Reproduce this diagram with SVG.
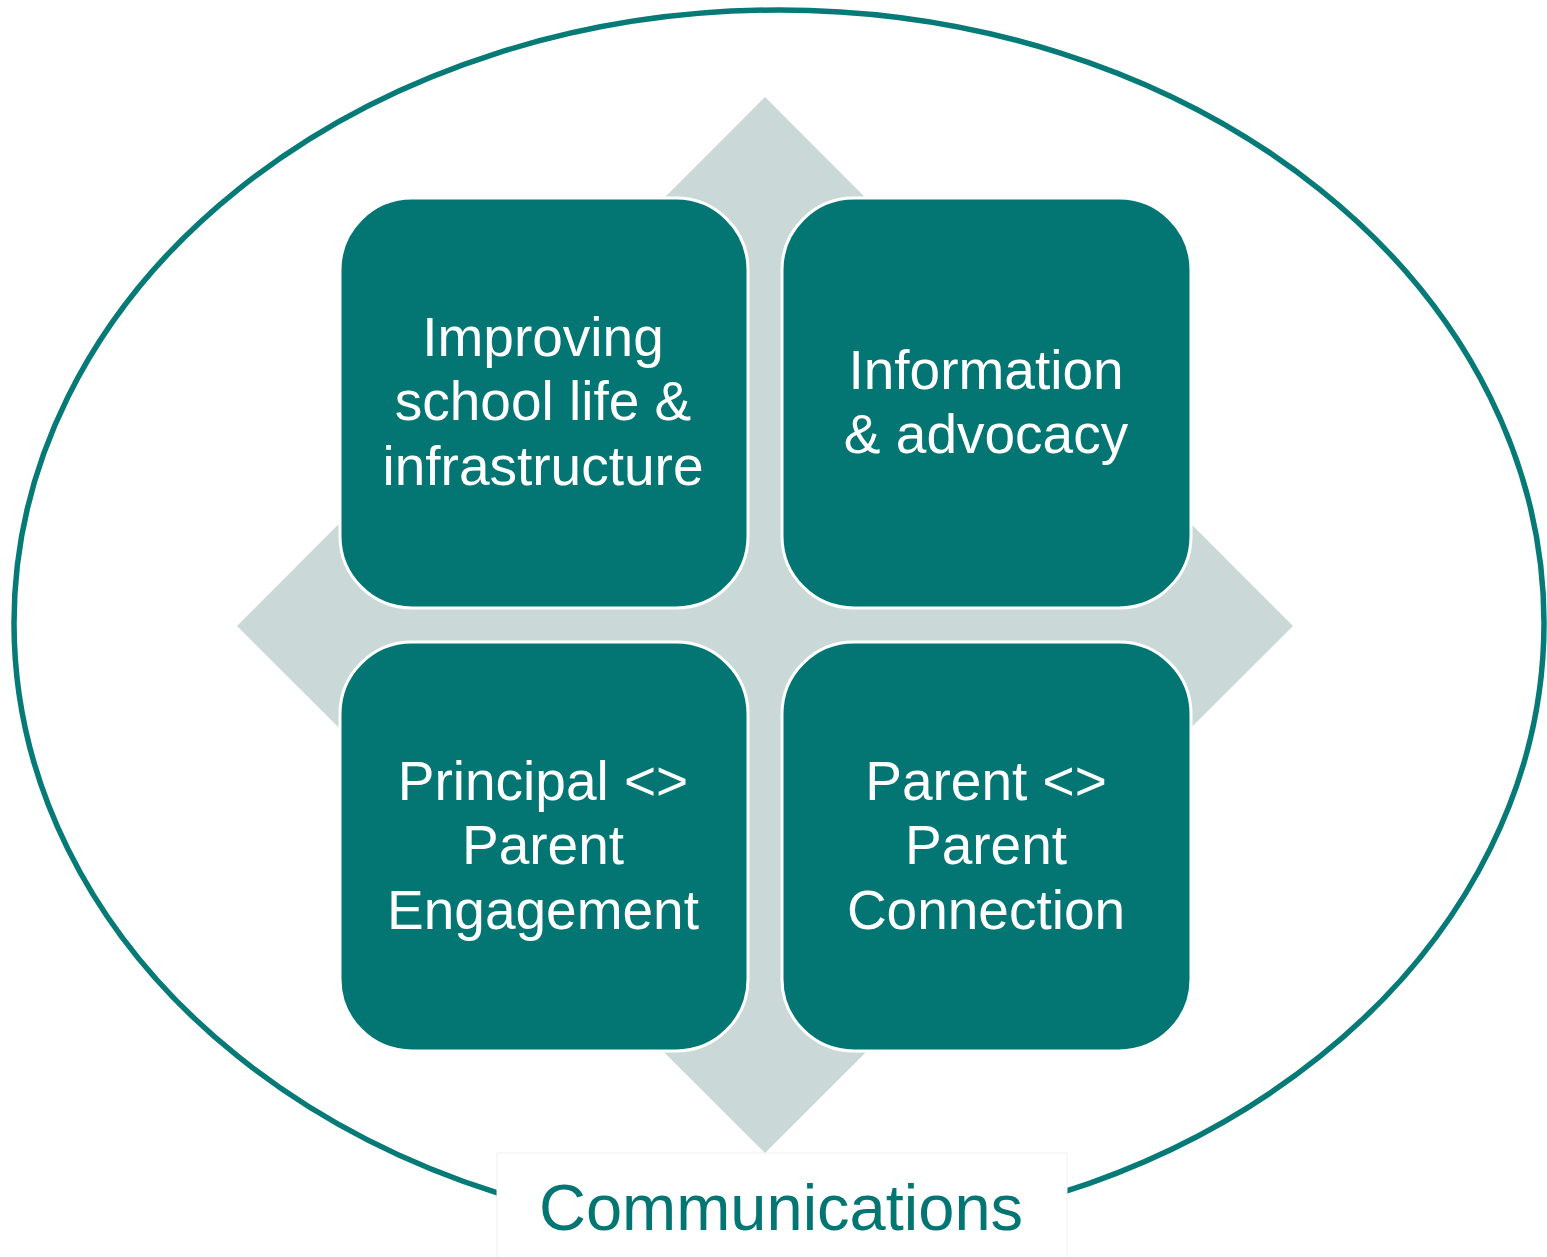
<svg xmlns="http://www.w3.org/2000/svg" width="1547" height="1257" viewBox="0 0 1547 1257">
<style>
.box{fill:#037673;stroke:#ffffff;stroke-width:3}
.t{font-family:"Liberation Sans",Arial,sans-serif;font-size:55px;fill:#ffffff;text-anchor:middle}
.lbl{font-family:"Liberation Sans",Arial,sans-serif;font-size:65px;fill:#037673;text-anchor:middle}
</style>
<rect width="1547" height="1257" fill="#ffffff"/>
<ellipse cx="779" cy="623" rx="765" ry="613" fill="none" stroke="#067a77" stroke-width="5.5"/>
<polygon points="765,97 1293,626 765,1153 237,626" fill="#cbd8d8"/>
<g id="n1"><rect class="box" x="340" y="198" width="408" height="410" rx="72"/>
<text class="t" x="543" y="356">Improving</text>
<text class="t" x="543" y="420">school life &amp;</text>
<text class="t" x="543" y="485">infrastructure</text></g>
<g id="n2"><rect class="box" x="782" y="198" width="409" height="410" rx="72"/>
<text class="t" x="986" y="389">Information</text>
<text class="t" x="986" y="453">&amp; advocacy</text></g>
<g id="n3"><rect class="box" x="340" y="642" width="408" height="409" rx="72"/>
<text class="t" x="543" y="800">Principal &lt;&gt;</text>
<text class="t" x="543" y="864">Parent</text>
<text class="t" x="543" y="929">Engagement</text></g>
<g id="n4"><rect class="box" x="782" y="642" width="409" height="409" rx="72"/>
<text class="t" x="986" y="800">Parent &lt;&gt;</text>
<text class="t" x="986" y="864">Parent</text>
<text class="t" x="986" y="929">Connection</text></g>
<g id="connectors"></g>
<g id="label"><rect x="497" y="1153" width="570" height="110" fill="#ffffff" stroke="#f0f0f0" stroke-width="1"/>
<text class="lbl" x="781" y="1230">Communications</text></g>
</svg>
